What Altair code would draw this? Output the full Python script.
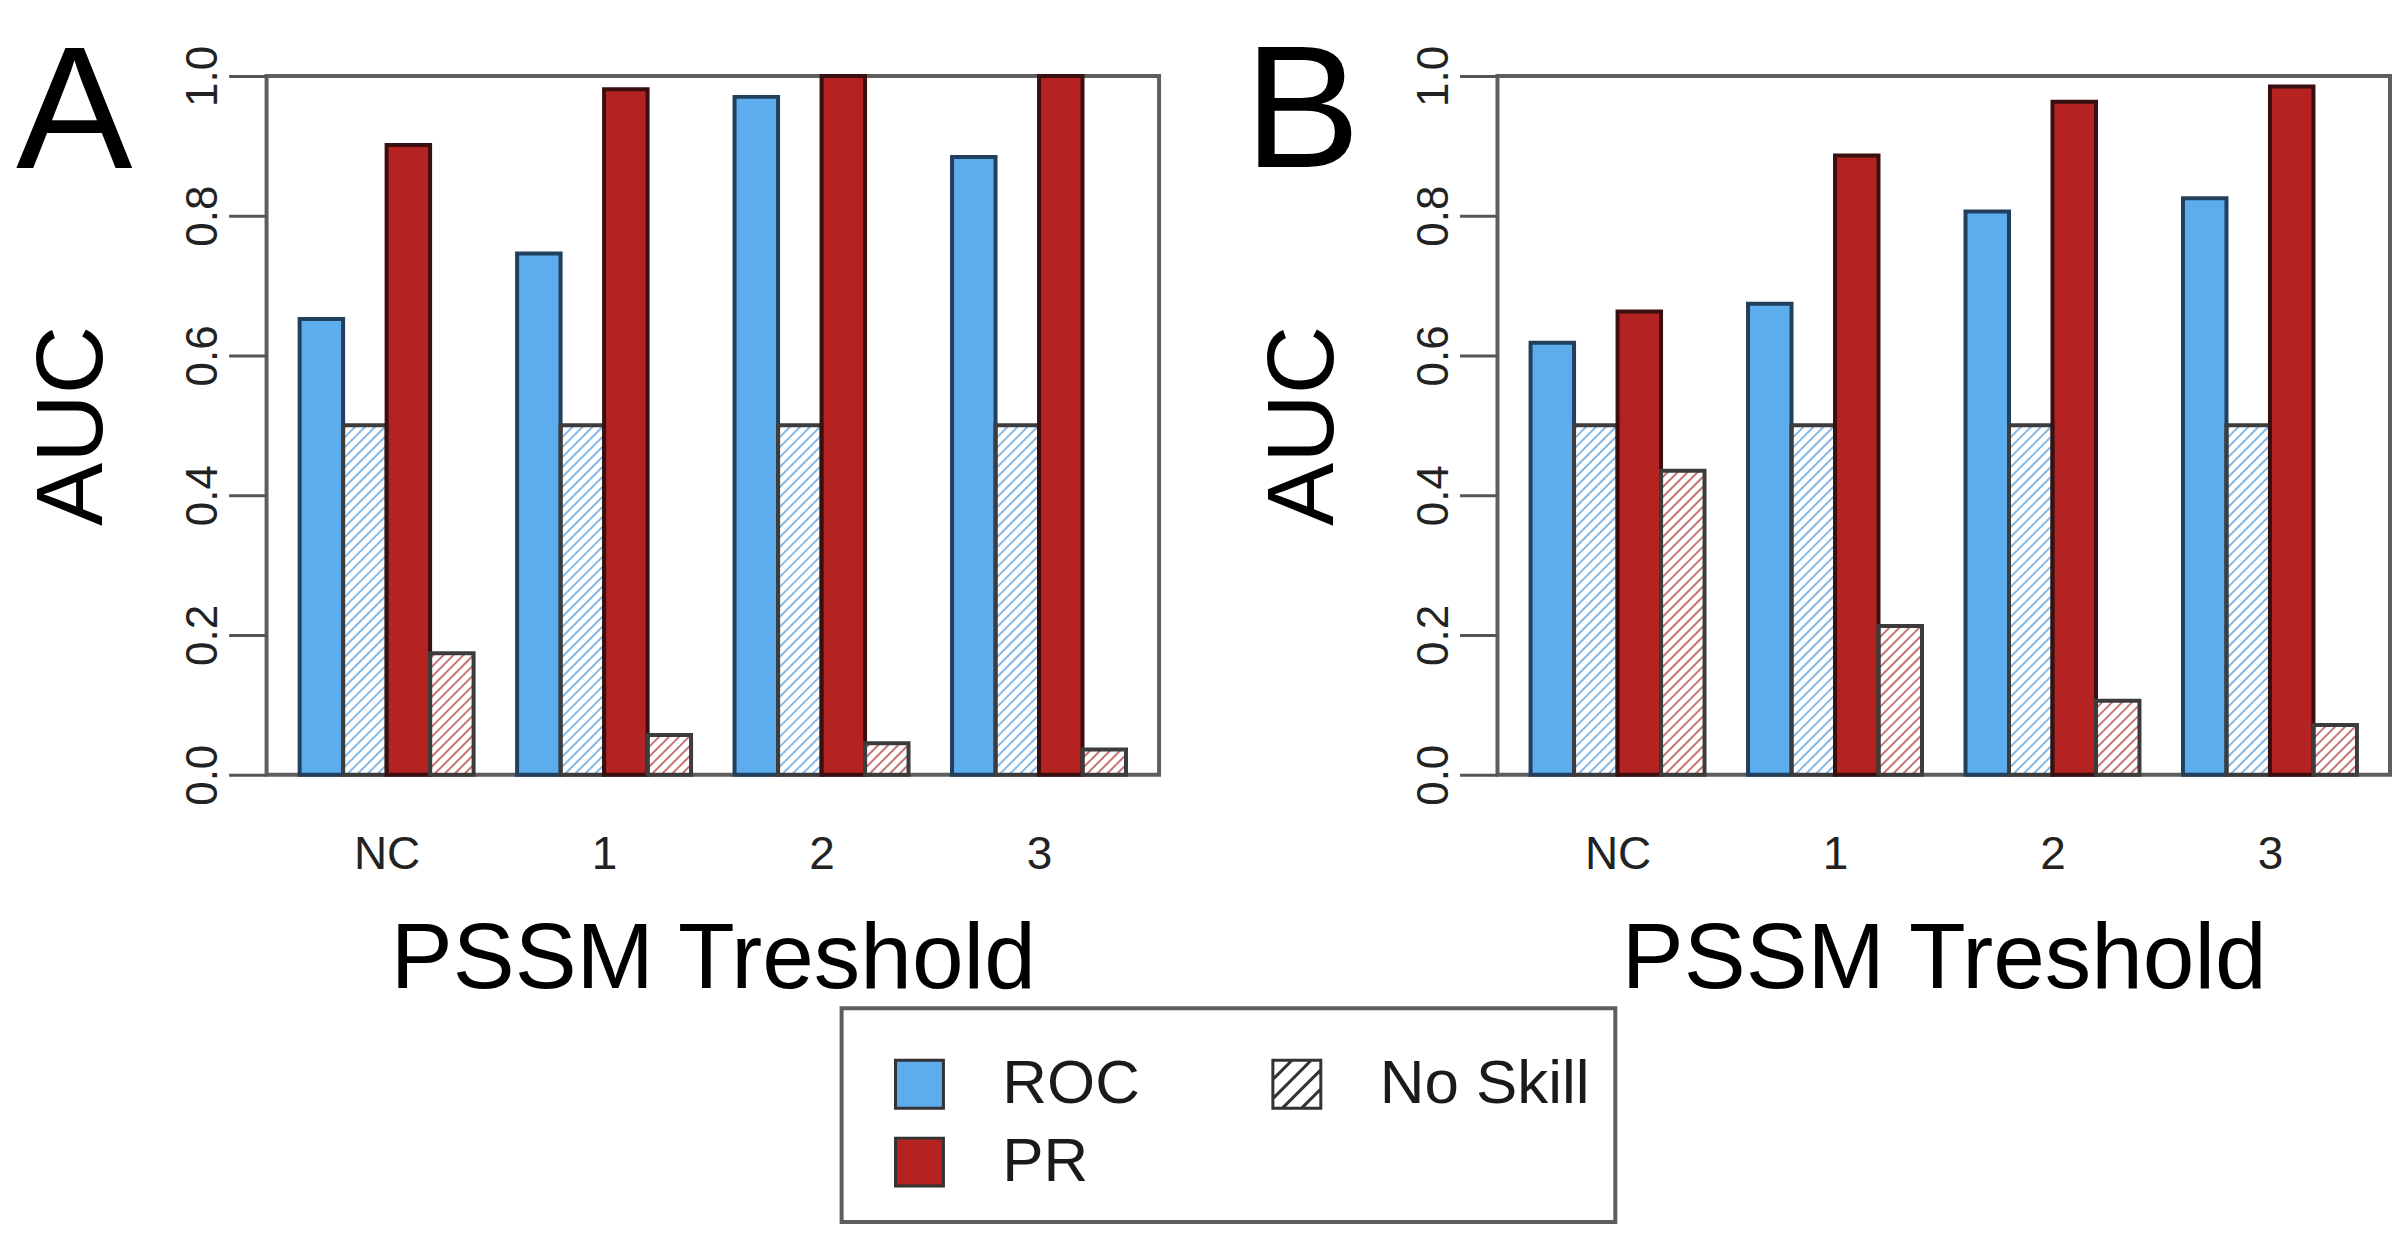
import json
import altair as alt
import pandas as pd

# ------------------------------------------------------------------ data
categories = ["NC", "1", "2", "3"]
series_names = ["ROC", "ROC No Skill", "PR", "PR No Skill"]

roc_A = [0.652, 0.746, 0.970, 0.884]
noskill_roc_A = [0.5, 0.5, 0.5, 0.5]
pr_A = [0.901, 0.981, 1.0, 1.0]
noskill_pr_A = [0.174, 0.057, 0.045, 0.036]

roc_B = [0.618, 0.674, 0.806, 0.825]
noskill_roc_B = [0.5, 0.5, 0.5, 0.5]
pr_B = [0.663, 0.886, 0.963, 0.985]
noskill_pr_B = [0.435, 0.213, 0.106, 0.071]

legend_labels = ["ROC", "PR", "No Skill"]
y_ticks = [0.0, 0.2, 0.4, 0.6, 0.8, 1.0]
x_title = "PSSM Treshold"
y_title = "AUC"
panel_letters = ["A", "B"]

# ------------------------------------------------------------------ style / layout
FONT = "Liberation Sans"
W, H = 894, 700
N_SER = len(series_names)
SPACE = 1
first_left = SPACE
last_right = len(categories) * (N_SER + SPACE)
ext = 0.04 * (last_right - first_left)
XMIN, XMAX = first_left - ext, last_right + ext
SX = W / (XMAX - XMIN)
SY = H
centers = [SPACE + g * (N_SER + SPACE) + N_SER / 2 for g in range(len(categories))]
HATCH_STEP = 10
LETTER_SIZE = 175

fill_colors = ["#5CACEE", "#ffffff", "#B52222", "#ffffff"]
stroke_colors = ["#22405e", "#3c3c3c", "#3a0f0f", "#3c3c3c"]
hatch_colors = ["#86b9e6", "#c77474"]
BOX_COLOR = "#5e5e5e"

label_expr = f"{json.dumps(categories)}[round((datum.value - {centers[0]})/{N_SER + SPACE})]"

x_axis = alt.Axis(
    values=centers, labelExpr=label_expr, title=x_title, grid=False, ticks=False,
    tickSize=0, domain=False, labelFontSize=46, labelPadding=80, labelBaseline="middle",
    labelAngle=0, labelFlush=False, labelOverlap=False, labelColor="#222222",
    labelFont=FONT, titleFont=FONT, titleFontSize=93, titleFontWeight="normal",
    titleBaseline="alphabetic", titleY=213, titleX=W / 2, titleAlign="center",
    titleColor="#000000",
)
y_axis = alt.Axis(
    values=y_ticks, format=".1f", title=y_title, grid=False, domain=False, ticks=True,
    tickSize=38, tickWidth=3, tickColor="#555555", labelFontSize=44, labelAngle=270,
    labelAlign="center", labelBaseline="alphabetic", labelPadding=12, labelFlush=False,
    labelOverlap=False, labelColor="#222222", labelFont=FONT, titleFont=FONT,
    titleFontSize=95, titleFontWeight="normal", titleAngle=270, titleAlign="center",
    titleBaseline="alphabetic", titleX=-165, titleY=H / 2, titleColor="#000000",
)


def make_panel(letter, letter_dx, letter_y, roc, ns_roc, pr, ns_pr):
    rows = []
    for gi, cat in enumerate(categories):
        for si, vals in enumerate([roc, ns_roc, pr, ns_pr]):
            rows.append({"group": cat, "gi": gi, "si": si, "series": series_names[si],
                         "value": vals[gi], "hatched": si % 2})
    df = pd.DataFrame(rows)
    base = alt.Chart(df).transform_calculate(
        xl=f"{SPACE} + datum.gi*{N_SER + SPACE} + datum.si",
    ).transform_calculate(xr="datum.xl + 1", zero="0")

    xs = alt.Scale(domain=[XMIN, XMAX], nice=False, zero=False)
    ys = alt.Scale(domain=[0, 1], nice=False, zero=False)

    fills = base.mark_rect(strokeWidth=0).encode(
        x=alt.X("xl:Q", scale=xs, axis=x_axis),
        x2="xr:Q",
        y=alt.Y("value:Q", scale=ys, axis=y_axis),
        y2="zero:Q",
        fill=alt.Fill("series:N", scale=alt.Scale(domain=series_names, range=fill_colors), legend=None),
    )

    hatch = base.transform_filter("datum.hatched == 1").transform_calculate(
        offs=f"sequence({-SX:.4f}, datum.value*{SY}, {HATCH_STEP})"
    ).transform_flatten(["offs"], as_=["c"]).transform_calculate(
        p0="max(0, -datum.c)", p1=f"min({SX:.4f}, datum.value*{SY} - datum.c)"
    ).transform_filter("datum.p1 > datum.p0").transform_calculate(
        hx=f"datum.xl + datum.p0/{SX:.4f}",
        hx2=f"datum.xl + datum.p1/{SX:.4f}",
        hy=f"(datum.p0 + datum.c)/{SY}",
        hy2=f"(datum.p1 + datum.c)/{SY}",
    ).mark_rule(strokeWidth=2).encode(
        x=alt.X("hx:Q", scale=xs, axis=x_axis),
        x2="hx2:Q",
        y=alt.Y("hy:Q", scale=ys, axis=y_axis),
        y2="hy2:Q",
        color=alt.Color("series:N", scale=alt.Scale(domain=[series_names[1], series_names[3]],
                                                    range=hatch_colors), legend=None),
    )

    outline = base.mark_rect(fillOpacity=0, strokeWidth=4, strokeJoin="miter").encode(
        x=alt.X("xl:Q", scale=xs, axis=x_axis),
        x2="xr:Q",
        y=alt.Y("value:Q", scale=ys, axis=y_axis),
        y2="zero:Q",
        stroke=alt.Stroke("series:N", scale=alt.Scale(domain=series_names, range=stroke_colors), legend=None),
    )

    letter_layer = alt.Chart(pd.DataFrame({"letter": [letter]})).mark_text(
        font=FONT, fontSize=LETTER_SIZE, align="left", baseline="alphabetic", color="#000000"
    ).encode(text="letter:N", x=alt.value(letter_dx), y=alt.value(letter_y))

    return alt.layer(fills, hatch, outline, letter_layer).properties(width=W, height=H)


panelA = make_panel(panel_letters[0], -251, 92, roc_A, noskill_roc_A, pr_A, noskill_pr_A)
panelB = make_panel(panel_letters[1], -254, 91, roc_B, noskill_roc_B, pr_B, noskill_pr_B)

# ------------------------------------------------------------------ legend
LEG_W, LEG_H = 775, 214
COL0, COL_STEP = 78, 378
ROW0, ROW_STEP = 76, 78
NROW = 2
leg_df = pd.DataFrame({"label": legend_labels})
leg_df["idx"] = list(range(len(legend_labels)))
leg_df["col"] = leg_df["idx"] // NROW
leg_df["row"] = leg_df["idx"] % NROW

HATCH_PATH = ("M-1,-1L1,-1L1,1L-1,1Z "
              "M-1,-0.2L-0.2,-1 M-1,0.6L0.6,-1 M-0.6,1L1,-0.6 M0.2,1L1,0.2")

lx = alt.X("col:Q", scale=alt.Scale(domain=[-COL0 / COL_STEP, (LEG_W - COL0) / COL_STEP],
                                    nice=False, zero=False), axis=None)
ly = alt.Y("row:Q", scale=alt.Scale(domain=[-ROW0 / ROW_STEP, (LEG_H - ROW0) / ROW_STEP],
                                    nice=False, zero=False, reverse=True), axis=None)

leg_base = alt.Chart(leg_df)
swatches = leg_base.mark_point(filled=True, size=2304, stroke="#333333", strokeWidth=3,
                               opacity=1, fillOpacity=1).encode(
    x=lx, y=ly,
    fill=alt.Fill("label:N", scale=alt.Scale(domain=legend_labels,
                                             range=[fill_colors[0], fill_colors[2], "#ffffff"]),
                  legend=None),
    shape=alt.Shape("label:N", scale=alt.Scale(domain=legend_labels,
                                               range=["square", "square", HATCH_PATH]),
                    legend=None),
)
leg_text = leg_base.mark_text(font=FONT, fontSize=62, align="left", baseline="middle",
                              dx=83, color="#1a1a1a").encode(x=lx, y=ly, text="label:N")
legend = alt.layer(swatches, leg_text).properties(width=LEG_W, height=LEG_H)

spacer = alt.Chart(leg_df).mark_point(opacity=0).encode(
    x=alt.value(0), y=alt.value(0)
).properties(width=570, height=LEG_H, view=alt.ViewBackground(stroke="transparent"))

top = alt.hconcat(panelA, panelB, spacing=339, bounds="flush")
bottom = alt.hconcat(spacer, legend, spacing=6, bounds="flush")

chart = alt.vconcat(top, bottom, spacing=-6).resolve_scale(
    fill="independent", stroke="independent", color="independent", shape="independent"
).properties(
    padding={"left": 6, "top": 16, "right": 0, "bottom": 0}
).configure(font=FONT).configure_view(stroke=BOX_COLOR, strokeWidth=4)

chart.save("out.html", embed_options={"renderer": "svg", "actions": False})
